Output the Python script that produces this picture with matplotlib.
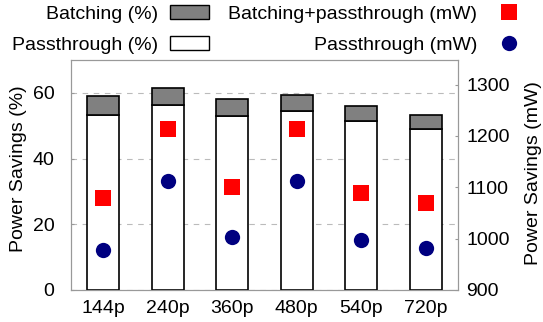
import matplotlib
matplotlib.use("Agg")
import matplotlib.pyplot as plt
from matplotlib.patches import Patch
from matplotlib.lines import Line2D
import numpy as np

plt.rcParams['font.family'] = ['Liberation Sans', 'DejaVu Sans']
plt.rcParams['font.size'] = 14

categories = ["144p", "240p", "360p", "480p", "540p", "720p"]
passthrough_pct = [53.2, 56.2, 52.9, 54.4, 51.4, 48.9]
batching_pct = [5.7, 5.2, 5.2, 5.1, 4.7, 4.5]
batch_pass_mw = [1079, 1214, 1101, 1214, 1089, 1070]
pass_mw = [978, 1113, 1003, 1112, 998, 982]

fig = plt.figure(figsize=(5.43, 3.22), dpi=100)
ax = fig.add_axes([71/543, 1-290/322, 387/543, 230/322])
ax2 = ax.twinx()

x = np.arange(len(categories))
ax.bar(x, passthrough_pct, width=0.5, color='white', edgecolor='black', linewidth=1.2, zorder=3)
ax.bar(x, batching_pct, width=0.5, bottom=passthrough_pct, color='#808080', edgecolor='black', linewidth=1.2, zorder=3)

ax.set_xlim(-0.5, 5.5)
ax.set_ylim(0, 70)
ax.set_yticks([0, 20, 40, 60])
ax.set_xticks(x)
ax.set_xticklabels(categories)
ax.set_ylabel("Power Savings (%)")
ax.yaxis.set_label_coords(-0.113, 0.526)
ax.yaxis.grid(True, linestyle=(0, (5, 5)), color='#bbbbbb', linewidth=0.8, zorder=0)
ax.set_axisbelow(True)

ax2.plot(x, batch_pass_mw, linestyle='none', marker='s', markersize=11.5, color='#ff0000', markeredgewidth=0, zorder=5)
ax2.plot(x, pass_mw, linestyle='none', marker='o', markersize=11, color='#000080', markeredgewidth=0, zorder=5)
ax2.set_ylim(900, 1348)
ax2.set_yticks([900, 1000, 1100, 1200, 1300])
ax2.set_ylabel("Power Savings (mW)")
ax2.yaxis.set_label_coords(1.172, 0.51)

for a in (ax, ax2):
    for s in a.spines.values():
        s.set_color('#999999')
ax.tick_params(axis='y', direction='in', length=2, color='#999999', pad=12)
ax.tick_params(axis='x', length=0, pad=7)
ax2.tick_params(axis='y', direction='in', length=2, color='#999999', pad=6)

h1 = [Patch(facecolor='#808080', edgecolor='black', label='Batching (%)'),
      Patch(facecolor='white', edgecolor='black', label='Passthrough (%)')]
fig.legend(handles=h1, loc='upper right', bbox_to_anchor=(209/543, 1 - 5/322), frameon=False,
           markerfirst=False, handlelength=2.0, handleheight=0.7, handletextpad=0.6,
           labelspacing=0.7, borderpad=0, borderaxespad=0)
h2 = [Line2D([], [], linestyle='none', marker='s', markersize=11.5, color='#ff0000', markeredgewidth=0, label='Batching+passthrough (mW)'),
      Line2D([], [], linestyle='none', marker='o', markersize=11, color='#000080', markeredgewidth=0, label='Passthrough (mW)')]
fig.legend(handles=h2, loc='upper right', bbox_to_anchor=(528/543, 1 - 5/322), frameon=False,
           markerfirst=False, handlelength=2.0, handletextpad=0.6,
           labelspacing=0.7, borderpad=0, borderaxespad=0)

fig.savefig("out.png", dpi=100)
